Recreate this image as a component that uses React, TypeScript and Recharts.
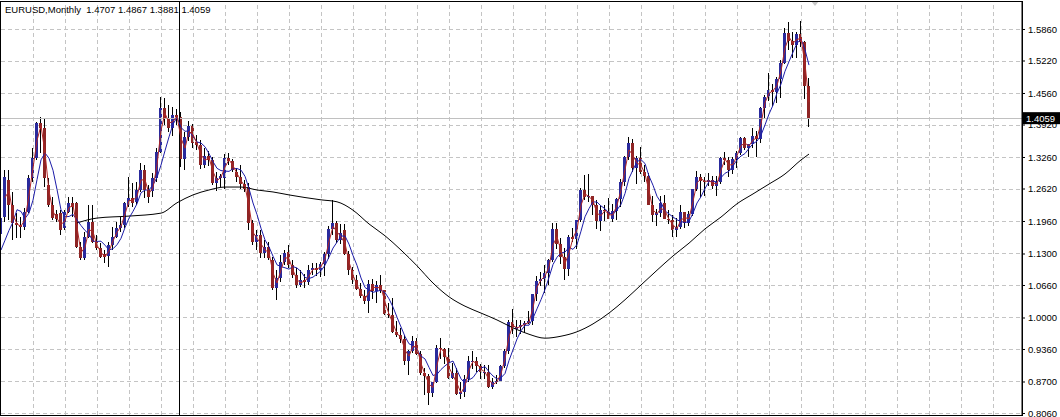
import React from "react";
import {
  ComposedChart,
  Bar,
  Line,
  XAxis,
  YAxis,
  CartesianGrid,
  ReferenceLine,
  ReferenceDot,
} from "recharts";

// ---- text ----
const titleText = "EURUSD,Monthly  1.4707 1.4867 1.3881 1.4059";
const lastPrice = 1.4059;
const lastPriceLabel = "1.4059";

// ---- monthly candles, Nov 1991 .. Sep 2008 (index 0 .. 202) ----
const opens = [
  1.170, 1.206,
  1.281, 1.230, 1.193, 1.188, 1.185, 1.215, 1.284, 1.325, 1.396, 1.385, 1.270, 1.230,
  1.211, 1.213, 1.183, 1.215, 1.233, 1.233, 1.144, 1.122, 1.165, 1.195, 1.154, 1.142,
  1.130, 1.126, 1.148, 1.165, 1.183, 1.189, 1.230, 1.244, 1.236, 1.260, 1.301, 1.260,
  1.258, 1.284, 1.337, 1.426, 1.406, 1.386, 1.412, 1.408, 1.322, 1.368, 1.390, 1.358,
  1.352, 1.311, 1.330, 1.321, 1.274, 1.284, 1.284, 1.325, 1.318, 1.296, 1.286, 1.272,
  1.266, 1.193, 1.155, 1.169, 1.132, 1.144, 1.118, 1.061, 1.081, 1.114, 1.134, 1.108,
  1.087, 1.067, 1.077, 1.073, 1.097, 1.101, 1.098, 1.110, 1.130, 1.180, 1.192, 1.158,
  1.1790, 1.1305, 1.0975, 1.0765, 1.0580, 1.0440, 1.0340, 1.0700, 1.0550, 1.0680, 1.0560, 1.0090,
  1.0070, 0.9710, 0.9650, 0.9570, 0.9120, 0.9330, 0.9530, 0.9270, 0.8880, 0.8830, 0.8480, 0.8700,
  0.9390, 0.9370, 0.9200, 0.8790, 0.8880, 0.8460, 0.8490, 0.8760, 0.9120, 0.9120, 0.9020, 0.8900,
  0.8900, 0.8600, 0.8690, 0.8720, 0.9020, 0.9330, 0.9920, 0.9780, 0.9810, 0.9860, 0.9890, 0.9930,
  1.0490, 1.0760, 1.0790, 1.0910, 1.1170, 1.1800, 1.1500, 1.1230, 1.0990, 1.1650, 1.1600, 1.1990,
  1.2590, 1.2450, 1.2480, 1.2290, 1.1960, 1.2200, 1.2170, 1.2020, 1.2170, 1.2420, 1.2760, 1.3270,
  1.3560, 1.3040, 1.3250, 1.2960, 1.2880, 1.2290, 1.2100, 1.2130, 1.2330, 1.2020, 1.1990, 1.1790,
  1.1840, 1.2150, 1.1920, 1.2120, 1.2620, 1.2870, 1.2790, 1.2760, 1.2810, 1.2680, 1.2760, 1.3250,
  1.3200, 1.3010, 1.3230, 1.3360, 1.3650, 1.3450, 1.3540, 1.3690, 1.3630, 1.4260, 1.4490, 1.4640,
  1.4590, 1.4860, 1.5180, 1.5790, 1.5620, 1.5550, 1.5760, 1.5610, 1.4707,
];
const highs = [
  1.212, 1.301,
  1.301, 1.256, 1.213, 1.205, 1.223, 1.290, 1.345, 1.398, 1.408, 1.406, 1.284, 1.246,
  1.219, 1.219, 1.219, 1.246, 1.246, 1.236, 1.154, 1.175, 1.230, 1.230, 1.169, 1.152,
  1.138, 1.154, 1.185, 1.195, 1.205, 1.236, 1.286, 1.274, 1.276, 1.315, 1.311, 1.270,
  1.294, 1.345, 1.449, 1.447, 1.432, 1.428, 1.425, 1.418, 1.378, 1.400, 1.395, 1.372,
  1.362, 1.345, 1.340, 1.327, 1.296, 1.292, 1.333, 1.335, 1.323, 1.305, 1.310, 1.280,
  1.274, 1.199, 1.179, 1.179, 1.158, 1.154, 1.124, 1.098, 1.128, 1.138, 1.148, 1.118,
  1.101, 1.098, 1.090, 1.108, 1.112, 1.112, 1.114, 1.134, 1.186, 1.240, 1.198, 1.190,
  1.1905, 1.1370, 1.1035, 1.0880, 1.0720, 1.0560, 1.0765, 1.0790, 1.0745, 1.0880, 1.0575, 1.0310,
  1.0415, 0.9935, 0.9800, 0.9650, 0.9350, 0.9640, 0.9590, 0.9330, 0.8980, 0.8870, 0.8700, 0.9450,
  0.9600, 0.9390, 0.9390, 0.9080, 0.8990, 0.8700, 0.8850, 0.9220, 0.9330, 0.9200, 0.9070, 0.9040,
  0.9040, 0.8780, 0.8850, 0.9040, 0.9380, 0.9960, 1.0185, 0.9950, 0.9950, 0.9940, 1.0150, 1.0490,
  1.0860, 1.0930, 1.1080, 1.1200, 1.1930, 1.1930, 1.1620, 1.1420, 1.1680, 1.1830, 1.2000, 1.2640,
  1.2900, 1.2930, 1.2480, 1.2400, 1.2280, 1.2290, 1.2440, 1.2320, 1.2440, 1.2820, 1.3300, 1.3667,
  1.3630, 1.3290, 1.3480, 1.3100, 1.2950, 1.2470, 1.2210, 1.2480, 1.2500, 1.2190, 1.2100, 1.2040,
  1.2300, 1.2160, 1.2170, 1.2630, 1.2980, 1.2920, 1.2860, 1.2940, 1.2890, 1.2880, 1.3260, 1.3370,
  1.3270, 1.3260, 1.3390, 1.3680, 1.3670, 1.3540, 1.3850, 1.3800, 1.4280, 1.4530, 1.4970, 1.4750,
  1.4890, 1.5240, 1.5900, 1.6020, 1.5810, 1.5810, 1.6038, 1.5620, 1.4867,
];
const lows = [
  1.160, 1.195,
  1.199, 1.158, 1.162, 1.162, 1.179, 1.213, 1.276, 1.321, 1.335, 1.266, 1.226, 1.199,
  1.195, 1.169, 1.179, 1.213, 1.205, 1.142, 1.118, 1.118, 1.162, 1.152, 1.138, 1.122,
  1.111, 1.104, 1.138, 1.162, 1.175, 1.183, 1.226, 1.226, 1.230, 1.256, 1.244, 1.234,
  1.246, 1.276, 1.335, 1.392, 1.378, 1.370, 1.392, 1.307, 1.300, 1.360, 1.345, 1.342,
  1.302, 1.304, 1.308, 1.270, 1.258, 1.266, 1.262, 1.310, 1.296, 1.276, 1.262, 1.256,
  1.179, 1.148, 1.138, 1.122, 1.122, 1.118, 1.057, 1.036, 1.073, 1.108, 1.101, 1.081,
  1.061, 1.063, 1.060, 1.068, 1.088, 1.085, 1.083, 1.085, 1.120, 1.168, 1.152, 1.150,
  1.1285, 1.0880, 1.0700, 1.0560, 1.0410, 1.0280, 1.0105, 1.0380, 1.0300, 1.0500, 1.0060, 1.0000,
  0.9700, 0.9605, 0.9500, 0.9050, 0.8840, 0.9290, 0.9240, 0.8840, 0.8445, 0.8228, 0.8395, 0.8680,
  0.9170, 0.9070, 0.8760, 0.8760, 0.8440, 0.8350, 0.8390, 0.8700, 0.8960, 0.8900, 0.8770, 0.8760,
  0.8580, 0.8560, 0.8660, 0.8710, 0.8990, 0.9260, 0.9680, 0.9610, 0.9680, 0.9700, 0.9870, 0.9860,
  1.0340, 1.0650, 1.0500, 1.0680, 1.1140, 1.1410, 1.1100, 1.0770, 1.0860, 1.1540, 1.1410, 1.1950,
  1.2390, 1.2360, 1.2090, 1.1810, 1.1760, 1.1960, 1.2010, 1.1950, 1.2000, 1.2260, 1.2690, 1.3210,
  1.2960, 1.2730, 1.2920, 1.2770, 1.2290, 1.1950, 1.1870, 1.2060, 1.2010, 1.1910, 1.1640, 1.1640,
  1.1800, 1.1830, 1.1870, 1.2070, 1.2570, 1.2450, 1.2480, 1.2690, 1.2620, 1.2480, 1.2720, 1.3100,
  1.2870, 1.2930, 1.3050, 1.3320, 1.3410, 1.3260, 1.3460, 1.3260, 1.3560, 1.4070, 1.4410, 1.4310,
  1.4370, 1.4470, 1.5150, 1.5450, 1.5290, 1.5290, 1.5510, 1.4440, 1.3881,
];
const closes = [
  1.203, 1.286,
  1.230, 1.193, 1.188, 1.185, 1.215, 1.284, 1.325, 1.396, 1.386, 1.285, 1.230, 1.203,
  1.201, 1.179, 1.215, 1.233, 1.225, 1.144, 1.122, 1.165, 1.195, 1.154, 1.142, 1.124,
  1.124, 1.148, 1.165, 1.183, 1.189, 1.233, 1.244, 1.234, 1.260, 1.301, 1.260, 1.246,
  1.284, 1.337, 1.426, 1.406, 1.386, 1.412, 1.408, 1.322, 1.368, 1.390, 1.356, 1.352,
  1.311, 1.330, 1.321, 1.274, 1.284, 1.288, 1.325, 1.318, 1.301, 1.286, 1.272, 1.262,
  1.193, 1.155, 1.169, 1.132, 1.144, 1.122, 1.061, 1.081, 1.114, 1.132, 1.108, 1.087,
  1.067, 1.077, 1.073, 1.097, 1.101, 1.098, 1.110, 1.130, 1.180, 1.192, 1.158, 1.172,
  1.1305, 1.0975, 1.0765, 1.0580, 1.0440, 1.0340, 1.0700, 1.0550, 1.0680, 1.0560, 1.0090, 1.0070,
  0.9710, 0.9650, 0.9570, 0.9120, 0.9330, 0.9530, 0.9270, 0.8880, 0.8830, 0.8480, 0.8700, 0.9390,
  0.9370, 0.9200, 0.8790, 0.8880, 0.8460, 0.8490, 0.8760, 0.9120, 0.9120, 0.9020, 0.8900, 0.8900,
  0.8600, 0.8690, 0.8720, 0.9020, 0.9330, 0.9920, 0.9780, 0.9810, 0.9860, 0.9890, 0.9930, 1.0490,
  1.0760, 1.0790, 1.0910, 1.1170, 1.1800, 1.1500, 1.1230, 1.0990, 1.1650, 1.1600, 1.1990, 1.2590,
  1.2450, 1.2480, 1.2290, 1.1960, 1.2200, 1.2170, 1.2020, 1.2170, 1.2420, 1.2760, 1.3270, 1.3560,
  1.3040, 1.3250, 1.2960, 1.2880, 1.2290, 1.2100, 1.2130, 1.2330, 1.2020, 1.1990, 1.1790, 1.1840,
  1.2150, 1.1920, 1.2120, 1.2620, 1.2870, 1.2790, 1.2760, 1.2810, 1.2680, 1.2760, 1.3250, 1.3200,
  1.3010, 1.3230, 1.3360, 1.3650, 1.3450, 1.3540, 1.3690, 1.3630, 1.4260, 1.4490, 1.4640, 1.4590,
  1.4860, 1.5180, 1.5790, 1.5620, 1.5550, 1.5760, 1.5610, 1.4707, 1.4059,
];

// blue fast average: first values (history before the window)
const fastLead = [1.138, 1.158, 1.178, 1.195];
const fastPeriod = 5;
const midPeriod = 2;

// black slow average at these bar indices
const slowIdx = [
  19, 24, 32, 40, 44, 48, 52, 56, 60, 64, 68, 72, 80, 84, 88, 92, 96, 100, 104, 108, 112,
  116, 120, 124, 128, 132, 136, 140, 144, 148, 152, 156, 160, 164, 168, 172, 176, 180, 184,
  188, 192, 196, 200, 202,
];
const slowVal = [
  1.193, 1.203, 1.207, 1.213, 1.234, 1.250, 1.260, 1.266, 1.266, 1.260, 1.256, 1.250, 1.240,
  1.236, 1.219, 1.191, 1.167, 1.138, 1.106, 1.071, 1.043, 1.024, 1.010, 0.996, 0.980, 0.967,
  0.959, 0.963, 0.972, 0.988, 1.010, 1.037, 1.067, 1.097, 1.126, 1.152, 1.181, 1.205, 1.232,
  1.252, 1.272, 1.2925, 1.321, 1.333,
];

// ---- axes ----
const yTickValues = [1.586, 1.522, 1.456, 1.392, 1.326, 1.262, 1.196, 1.13, 1.066, 1.0, 0.936, 0.87, 0.806];
const xGridTicks = [
  8, 16, 24, 32, 40, 48, 56, 64, 72, 80, 88, 96, 104, 112, 120, 128, 136, 144, 152, 160, 168,
  176, 184, 192, 200, 208, 216, 224, 232, 240, 248,
];
const separatorBar = 44.5;
const shiftMarkerBar = 203.5;

const Y_DOMAIN: [number, number] = [0.80295, 1.64389];
const X_DOMAIN: [number, number] = [0, 255.25];

const UP = "#2a2a9c";
const DOWN = "#8e2525";
const WICK = "#000000";
const GRID = "#c4c4c4";

const slowMap = new Map<number, number>();
slowIdx.forEach((k, j) => slowMap.set(k, slowVal[j]));

const mean = (arr: number[]) => arr.reduce((a, b) => a + b, 0) / arr.length;

const data = closes.map((c, i) => ({
  i,
  o: opens[i],
  h: highs[i],
  l: lows[i],
  c,
  range: [lows[i], highs[i]],
  fast: i < fastPeriod - 1 ? fastLead[i] : mean(closes.slice(i - fastPeriod + 1, i + 1)),
  mid: i < midPeriod - 1 ? null : mean(closes.slice(i - midPeriod + 1, i + 1)),
  slow: slowMap.has(i) ? slowMap.get(i) : null,
}));

const Candle = (props: any) => {
  const { x, y, width, height, payload } = props;
  if (!payload || height == null || isNaN(y)) return null;
  const { o, h, l, c } = payload;
  const top = Math.min(y, y + height);
  const span = Math.abs(height);
  const py = (v: number) => top + ((h - v) / (h - l)) * span;
  const cx = Math.floor(x + width / 2) + 0.5;
  const bTop = Math.round(py(Math.max(o, c)));
  const bBot = Math.round(py(Math.min(o, c)));
  const up = c >= o;
  return (
    <g shapeRendering="crispEdges">
      <line x1={cx} x2={cx} y1={Math.round(top)} y2={Math.round(top + span)} stroke={WICK} strokeWidth={1} />
      <rect x={cx - 1.5} y={bTop} width={3} height={Math.max(1, bBot - bTop)} fill={up ? UP : DOWN} />
    </g>
  );
};

const PriceTag = (props: any) => {
  const vb = props.viewBox || {};
  const x0 = (vb.x || 0) + (vb.width || 0) + 1;
  const yc = vb.y || 0;
  return (
    <g>
      <rect x={x0} y={yc - 6} width={37} height={12} fill="#000" />
      <text x={x0 + 3} y={yc + 3.5} fill="#fff" fontSize={9.5} fontFamily="'Liberation Sans', Arial, sans-serif">
        {lastPriceLabel}
      </text>
    </g>
  );
};

const ShiftMarker = (props: any) => {
  const { cx, cy } = props;
  if (cx == null || cy == null) return null;
  return <polygon points={`${cx - 4},${cy} ${cx + 4},${cy} ${cx},${cy + 5}`} fill="#c8c8c8" />;
};

export default function App() {
  return (
    <div style={{ position: "absolute", left: 0, top: 0, width: 1060, height: 417, background: "#fff", overflow: "hidden" }}>
      <ComposedChart
        width={1060}
        height={417}
        data={data}
        margin={{ top: 1, right: 0, bottom: 2, left: 1 }}
      >
        <CartesianGrid stroke={GRID} strokeDasharray="4 3" vertical={false} shapeRendering="crispEdges" />
        <XAxis
          type="number"
          dataKey="i"
          domain={X_DOMAIN}
          allowDataOverflow
          ticks={xGridTicks}
          tick={false}
          tickLine={false}
          axisLine={false}
          height={0}
        />
        <YAxis
          orientation="right"
          domain={Y_DOMAIN}
          allowDataOverflow
          ticks={yTickValues}
          interval={0}
          width={38}
          tickSize={3}
          tickMargin={3}
          axisLine={{ stroke: "#000" }}
          tickLine={{ stroke: "#000" }}
          tick={{ fill: "#000", fontSize: 9.5, fontFamily: "'Liberation Sans', Arial, sans-serif" }}
          tickFormatter={(v: number) => v.toFixed(4)}
        />
        {xGridTicks.map((t) => (
          <ReferenceLine
            key={`g${t}`}
            x={t}
            stroke={GRID}
            strokeDasharray="4 3"
            strokeWidth={1}
            shapeRendering="crispEdges"
          />
        ))}
        <ReferenceLine y={lastPrice} stroke="#c0c0c0" strokeWidth={1} shapeRendering="crispEdges" label={<PriceTag />} />
        <ReferenceLine x={separatorBar} stroke="#000" strokeWidth={1} shapeRendering="crispEdges" />
        <Bar dataKey="range" barSize={3} shape={<Candle />} isAnimationActive={false} />
        <Line type="monotone" dataKey="slow" stroke="#000" strokeWidth={1} dot={false} connectNulls isAnimationActive={false} />
        <Line type="linear" dataKey="fast" stroke="#1c1ca8" strokeWidth={1} dot={false} isAnimationActive={false} />
        <Line type="linear" dataKey="mid" stroke="#b02626" strokeWidth={1} dot={false} isAnimationActive={false} />
        <ReferenceDot x={shiftMarkerBar} y={Y_DOMAIN[1]} ifOverflow="visible" shape={<ShiftMarker />} />
      </ComposedChart>
      <div
        style={{
          position: "absolute",
          left: 0,
          top: 1,
          width: 1023,
          height: 415,
          boxSizing: "border-box",
          border: "1px solid #000",
          pointerEvents: "none",
        }}
      />
      <div
        style={{
          position: "absolute",
          left: 5,
          top: 5,
          fontSize: 9.5,
          lineHeight: "10px",
          fontFamily: "'Liberation Sans', Arial, sans-serif",
          color: "#000",
          whiteSpace: "pre",
        }}
      >
        {titleText}
      </div>
    </div>
  );
}
